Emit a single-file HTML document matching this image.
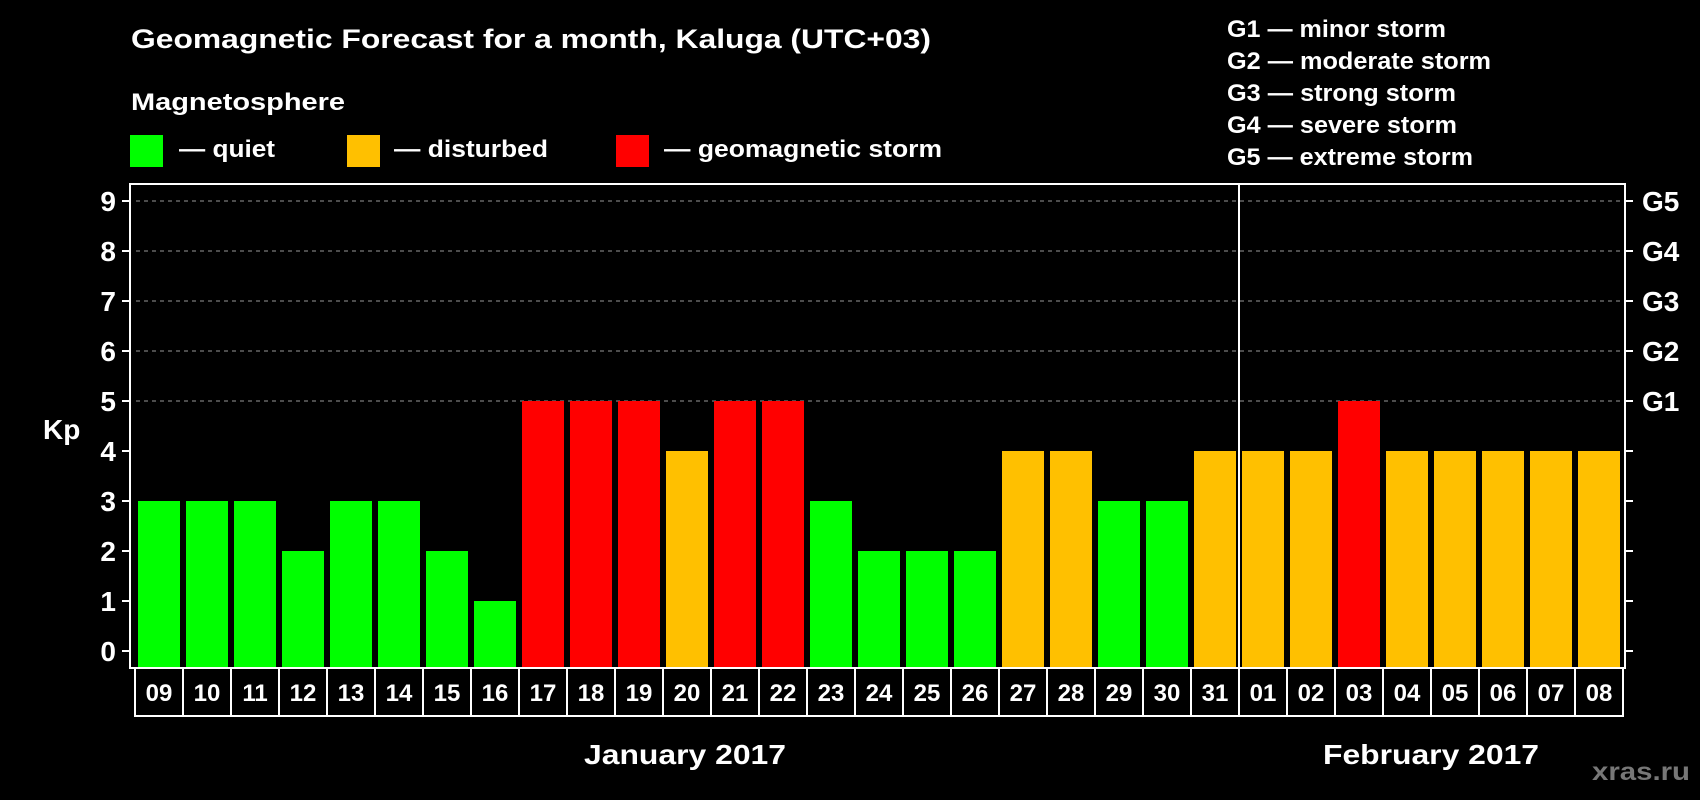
<!DOCTYPE html>
<html><head><meta charset="utf-8"><style>
html,body{margin:0;padding:0;background:#000;}
svg{display:block;font-family:"Liberation Sans",Arial,sans-serif;font-weight:bold;}
</style></head><body>
<svg id="chart" width="1700" height="800" viewBox="0 0 1700 800" xmlns="http://www.w3.org/2000/svg">
<rect x="0" y="0" width="1700" height="800" fill="#000"/>
<text x="131" y="48" fill="#fff" font-size="27" textLength="800" lengthAdjust="spacingAndGlyphs">Geomagnetic Forecast for a month, Kaluga (UTC+03)</text>
<text x="131" y="110" fill="#fff" font-size="24" textLength="214" lengthAdjust="spacingAndGlyphs">Magnetosphere</text>
<g>
<rect x="130" y="135" width="33" height="32" fill="#00ff00"/>
<text x="179" y="157" fill="#fff" font-size="24" textLength="96" lengthAdjust="spacingAndGlyphs">— quiet</text></g>
<g>
<rect x="347" y="135" width="33" height="32" fill="#ffc000"/>
<text x="394" y="157" fill="#fff" font-size="24" textLength="154" lengthAdjust="spacingAndGlyphs">— disturbed</text></g>
<g>
<rect x="616" y="135" width="33" height="32" fill="#ff0000"/>
<text x="664" y="157" fill="#fff" font-size="24" textLength="278" lengthAdjust="spacingAndGlyphs">— geomagnetic storm</text></g>
<g fill="#fff" font-size="24">
<text x="1227" y="37" textLength="219" lengthAdjust="spacingAndGlyphs">G1 — minor storm</text>
<text x="1227" y="69" textLength="264" lengthAdjust="spacingAndGlyphs">G2 — moderate storm</text>
<text x="1227" y="101" textLength="229" lengthAdjust="spacingAndGlyphs">G3 — strong storm</text>
<text x="1227" y="133" textLength="230" lengthAdjust="spacingAndGlyphs">G4 — severe storm</text>
<text x="1227" y="165" textLength="246" lengthAdjust="spacingAndGlyphs">G5 — extreme storm</text>
</g>
<text x="43" y="439" fill="#fff" font-size="28">Kp</text>
<g id="grid"></g>
<g id="bars"></g>
<g id="xlabels"></g>
<rect x="130" y="184" width="1495" height="484" fill="none" stroke="#fff" stroke-width="2"/>
<line x1="1239" y1="184" x2="1239" y2="668" stroke="#fff" stroke-width="2"/>
<text x="584" y="764" fill="#fff" font-size="28" textLength="202" lengthAdjust="spacingAndGlyphs">January 2017</text>
<text x="1323" y="764" fill="#fff" font-size="28" textLength="216" lengthAdjust="spacingAndGlyphs">February 2017</text>
<text x="1592" y="780" fill="#777" font-size="25" textLength="98" lengthAdjust="spacingAndGlyphs">xras.ru</text>
</svg>
<script>
const days = ["09","10","11","12","13","14","15","16","17","18","19","20","21","22","23","24","25","26","27","28","29","30","31","01","02","03","04","05","06","07","08"];
const kpValues = [3,3,3,2,3,3,2,1,5,5,5,4,5,5,3,2,2,2,4,4,3,3,4,4,4,5,4,4,4,4,4];
const yTicks = [0,1,2,3,4,5,6,7,8,9];
const gLabels = ["G1","G2","G3","G4","G5"];

const NS = "http://www.w3.org/2000/svg";
const y = v => 651 - 50 * v;
const x = i => 138 + 48 * i;
const BW = 42, PLOT_BOTTOM = 668;
function color(v){ return v >= 5 ? "#ff0000" : (v >= 4 ? "#ffc000" : "#00ff00"); }
function mk(tag, attrs, parent){ const e = document.createElementNS(NS, tag); for (const k in attrs) e.setAttribute(k, attrs[k]); parent.appendChild(e); return e; }

const grid = document.getElementById("grid");
yTicks.forEach(t => {
  const yy = y(t);
  const tk = mk("line", {x1:122, x2:130, y1:yy, y2:yy, stroke:"#fff", "stroke-width":2}, grid);
  
  
  const tr = mk("line", {x1:1625, x2:1633, y1:yy, y2:yy, stroke:"#fff", "stroke-width":2}, grid);
  
  
  const lb = mk("text", {x:116, y:yy + 10, fill:"#fff", "font-size":28, "text-anchor":"end"}, grid);
  lb.textContent = t;
  
  
  if (t >= 5) {
    const gl = mk("line", {x1:136, x2:1623, y1:yy, y2:yy, stroke:"#999", "stroke-width":1, "stroke-dasharray":"4,4"}, grid);
    
    
    const g = mk("text", {x:1642, y:yy + 10, fill:"#fff", "font-size":28}, grid);
    g.textContent = gLabels[t - 5];
    
    
  }
});

const bars = document.getElementById("bars");
const xl = document.getElementById("xlabels");
kpValues.forEach((v, i) => {
  const r = mk("rect", {x:x(i), y:y(v), width:BW, height:PLOT_BOTTOM - y(v), fill:color(v)}, bars);
  
  
  const cell = mk("rect", {x:x(i) - 3, y:668, width:48, height:48, fill:"none", stroke:"#fff", "stroke-width":2}, xl);
  
  
  const t = mk("text", {x:x(i) + BW / 2, y:701, fill:"#fff", "font-size":24, "text-anchor":"middle"}, xl);
  t.textContent = days[i];
  
  
});
</script>
</body></html>
